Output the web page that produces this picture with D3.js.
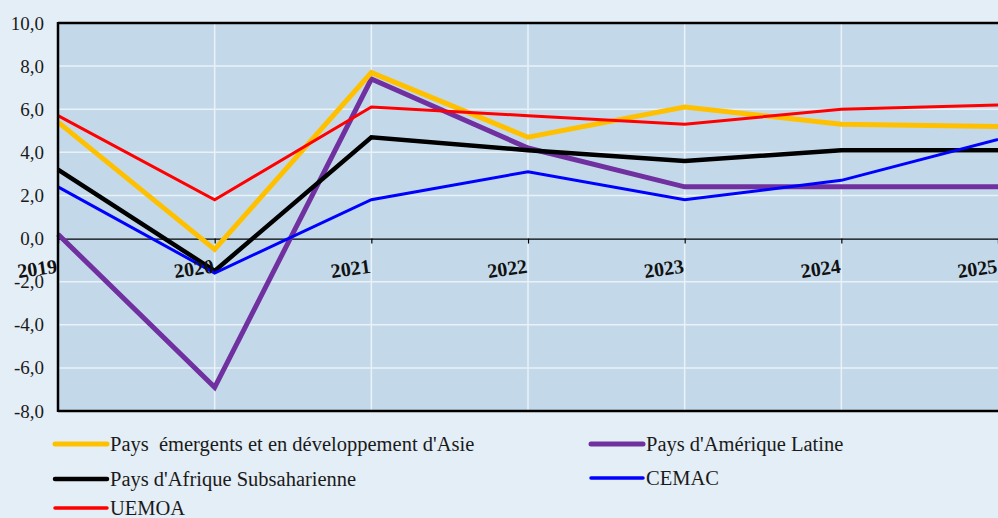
<!DOCTYPE html>
<html><head><meta charset="utf-8">
<script src="https://cdn.jsdelivr.net/npm/d3@7"></script>
<style>
html,body{margin:0;padding:0;background:#e4eef6;overflow:hidden;}
svg{display:block;}
</style></head>
<body>
<svg id="c" width="998" height="518"></svg>
<script>
const years = [2019, 2020, 2021, 2022, 2023, 2024, 2025];
const asie = [5.4, -0.5, 7.7, 4.7, 6.1, 5.3, 5.2];
const amLatine = [0.2, -6.9, 7.4, 4.2, 2.4, 2.4, 2.4];
const afrSub = [3.2, -1.5, 4.7, 4.1, 3.6, 4.1, 4.1];
const cemac = [2.4, -1.6, 1.8, 3.1, 1.8, 2.7, 4.6];
const uemoa = [5.7, 1.8, 6.1, 5.7, 5.3, 6.0, 6.2];
const yTicks = [10, 8, 6, 4, 2, 0, -2, -4, -6, -8];
const seriesNames = ["Pays  émergents et en développement d'Asie", "Pays d'Amérique Latine", "Pays d'Afrique Subsaharienne", "CEMAC", "UEMOA"];

const sAsie = {name: seriesNames[0], values: asie, color: "#ffc000", w: 5};
const sLat = {name: seriesNames[1], values: amLatine, color: "#7030a0", w: 5};
const sAfr = {name: seriesNames[2], values: afrSub, color: "#000000", w: 4.5};
const sCem = {name: seriesNames[3], values: cemac, color: "#0000ff", w: 3};
const sUem = {name: seriesNames[4], values: uemoa, color: "#ff0000", w: 3};
const drawOrder = [sLat, sAsie, sAfr, sCem, sUem];

const svg = d3.select("#c");
const L = 58, T = 23, B = 411, R = 998;
const x = d3.scaleLinear().domain([2019, 2025]).range([L, R]);
const y = d3.scaleLinear().domain([-8, 10]).range([B, T]);

svg.append("rect").attr("x", L).attr("y", T).attr("width", R - L + 5).attr("height", B - T).attr("fill", "#c3d9ea");

// grid
svg.append("g").selectAll("line").data(yTicks.filter(d => d !== 10 && d !== -8 && d !== 0)).join("line")
  .attr("x1", L).attr("x2", R).attr("y1", d => y(d)).attr("y2", d => y(d))
  .attr("stroke", "#eaf1f7").attr("stroke-width", 1.5);
svg.append("g").selectAll("line").data(years.slice(1, -1)).join("line")
  .attr("x1", d => x(d)).attr("x2", d => x(d)).attr("y1", T).attr("y2", B)
  .attr("stroke", "#eaf1f7").attr("stroke-width", 1.5);

// y axis labels
const yAxis = d3.axisLeft(y).tickValues(yTicks).tickSize(0).tickPadding(14)
  .tickFormat(d => d3.format(".1f")(d).replace(".", ",").replace("−", "-"));
const gy = svg.append("g").attr("transform", `translate(${L},0)`).call(yAxis);
gy.select(".domain").remove();
gy.selectAll("text").attr("font-family", "'Liberation Serif', serif").attr("font-size", 19).attr("fill", "#1a1a1a");

// zero axis with ticks
const xAxis = d3.axisBottom(x).tickValues(years).tickSize(5).tickFormat("");
const gx = svg.append("g").attr("transform", `translate(0,${y(0)})`).call(xAxis);
gx.select(".domain").attr("stroke", "#000").attr("stroke-width", 1.2);
gx.selectAll(".tick line").attr("stroke", "#000").attr("stroke-width", 1.2);

// lines
const line = d3.line().x((d, i) => x(years[i])).y(d => y(d));
svg.append("g").selectAll("path").data(drawOrder).join("path")
  .attr("d", d => line(d.values)).attr("fill", "none")
  .attr("stroke", d => d.color).attr("stroke-width", d => d.w).attr("stroke-linejoin", "miter");

// x labels (rotated)
svg.append("g").selectAll("text").data(years).join("text")
  .attr("transform", d => `translate(${x(d)},${y(0) + 34}) rotate(-8)`)
  .attr("text-anchor", "end")
  .attr("font-family", "'Liberation Serif', serif").attr("font-weight", "bold").attr("font-size", 20)
  .attr("fill", "#111").text(d => d);

// frame
svg.append("line").attr("x1", L).attr("x2", L).attr("y1", T - 1).attr("y2", B + 1).attr("stroke", "#000").attr("stroke-width", 2.5);
svg.append("line").attr("x1", L).attr("x2", R).attr("y1", T).attr("y2", T).attr("stroke", "#000").attr("stroke-width", 2.5);
svg.append("line").attr("x1", L).attr("x2", R).attr("y1", B).attr("y2", B).attr("stroke", "#000").attr("stroke-width", 2.5);

// legend
const legendItems = [
  {s: sAsie, lx: 55, ly: 444},
  {s: sLat, lx: 591, ly: 444},
  {s: sAfr, lx: 55, ly: 479},
  {s: sCem, lx: 591, ly: 478},
  {s: sUem, lx: 55, ly: 508}
];
const lg = svg.append("g").selectAll("g").data(legendItems).join("g")
  .attr("transform", d => `translate(${d.lx},${d.ly})`);
lg.append("line").attr("x1", 0).attr("x2", 52).attr("y1", 0).attr("y2", 0)
  .attr("stroke", d => d.s.color).attr("stroke-width", d => Math.max(3.5, d.s.w)).attr("stroke-linecap", "round");
lg.append("text").attr("x", 55).attr("y", 7)
  .attr("font-family", "'Liberation Serif', serif").attr("font-size", 20.5).attr("fill", "#1a1a1a")
  .attr("xml:space", "preserve").style("white-space", "pre")
  .text(d => d.s.name);
</script>
</body></html>
